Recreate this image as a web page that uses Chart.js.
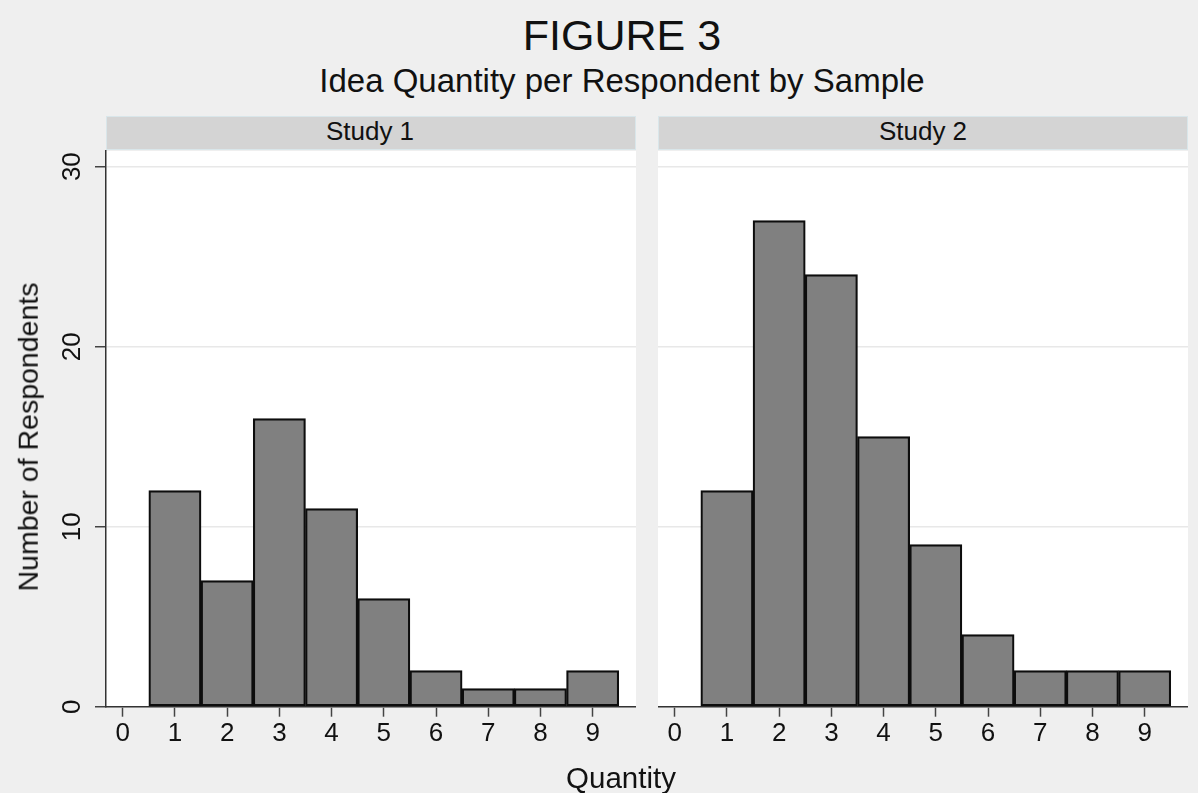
<!DOCTYPE html>
<html>
<head>
<meta charset="utf-8">
<script src="https://cdn.jsdelivr.net/npm/chart.js@4.4.1/dist/chart.umd.min.js"></script>
<style>
    html, body { margin: 0; padding: 0; }
    body { width: 1198px; height: 793px; background: #efefef; position: relative; overflow: hidden;
           font-family: "Liberation Sans", Arial, Helvetica, sans-serif; color: #111; }
    .txt { position: absolute; line-height: 1; white-space: nowrap; transform: translateX(-50%); }
    .strip { position: absolute; top: 116px; height: 34px; background: #d4d4d4; border: 1px solid #d9e6ea; box-sizing: border-box; }
    .panel { position: absolute; top: 121px; height: 672px; }
</style>
</head>
<body>
<div class="txt" style="left:622px; top:14px; font-size:43px;">FIGURE 3</div>
<div class="txt" style="left:622px; top:64px; font-size:33px;">Idea Quantity per Respondent by Sample</div>

<div class="strip" style="left:106px; width:530px;"></div>
<div class="strip" style="left:658px; width:530px;"></div>
<div class="txt" style="left:370px; top:118px; font-size:26px;">Study 1</div>
<div class="txt" style="left:923px; top:118px; font-size:26px;">Study 2</div>

<div class="panel" style="left:0px; width:636px;"><canvas id="study1"></canvas></div>
<div class="panel" style="left:658px; width:530px;"><canvas id="study2"></canvas></div>

<div class="txt" style="left:28px; top:437px; font-size:28.5px; transform: translate(-50%, -50%) rotate(-90deg);">Number of Respondents</div>
<div class="txt" style="left:621px; top:763px; font-size:29.5px;">Quantity</div>

<script>
// data
const quantities = [1, 2, 3, 4, 5, 6, 7, 8, 9];
const study1Counts = [12, 7, 16, 11, 6, 2, 1, 1, 2];
const study2Counts = [12, 27, 24, 15, 9, 4, 2, 2, 2];
const xTickValues = [0, 1, 2, 3, 4, 5, 6, 7, 8, 9];
const yTickValues = [0, 10, 20, 30];

Chart.defaults.font.family = '"Liberation Sans", Arial, Helvetica, sans-serif';
Chart.defaults.color = "#111";

const plotBackground = {
    id: "plotBackground",
    beforeDraw: (chart) => {
        const { ctx, chartArea } = chart;
        ctx.save();
        ctx.fillStyle = "#ffffff";
        ctx.fillRect(chartArea.left, chartArea.top, chartArea.right - chartArea.left, chartArea.bottom - chartArea.top);
        ctx.restore();
    }
};

const buildPanel = (canvasId, counts, showYAxis) => {
    const points = quantities.map((q, i) => ({ x: q, y: counts[i] }));

    return new Chart(document.getElementById(canvasId), {
        type: "bar",
        data: {
            datasets: [{
                data: points,
                backgroundColor: "#808080",
                borderColor: "#0d0d0d",
                borderWidth: 2.2,
                borderSkipped: false,
                barPercentage: 1,
                categoryPercentage: 1
            }]
        },
        plugins: [plotBackground],
        options: {
            responsive: true,
            maintainAspectRatio: false,
            animation: false,
            layout: { padding: { top: 30, left: 0, right: 0, bottom: 0 } },
            plugins: { legend: { display: false }, tooltip: { enabled: false } },
            scales: {
                x: {
                    type: "linear",
                    min: -0.32,
                    max: 9.83,
                    offset: false,
                    afterBuildTicks: (scale) => { scale.ticks = xTickValues.map((v) => ({ value: v })); },
                    afterFit: (scale) => { scale.height = 86.3; },
                    border: { display: true, color: "#333", width: 1.5 },
                    grid: { offset: false, drawOnChartArea: false, drawTicks: true, tickLength: 10, tickColor: "#444", tickWidth: 1.5 },
                    ticks: { font: { size: 26 }, padding: 2, maxRotation: 0, autoSkip: false }
                },
                y: {
                    min: 0,
                    max: 30.87,
                    afterBuildTicks: (scale) => { scale.ticks = yTickValues.map((v) => ({ value: v })); },
                    afterFit: (scale) => { scale.width = showYAxis ? 106 : 0; },
                    border: { display: showYAxis, color: "#333", width: 1.5 },
                    grid: { color: "#e8e8e8", lineWidth: 1.5, drawTicks: showYAxis, tickLength: 11, tickColor: "#444", tickWidth: 1.5 },
                    ticks: { display: showYAxis, font: { size: 26 }, padding: 8, minRotation: 90, maxRotation: 90, crossAlign: "center" }
                }
            }
        }
    });
};

buildPanel("study1", study1Counts, true);
buildPanel("study2", study2Counts, false);
</script>
</body>
</html>
